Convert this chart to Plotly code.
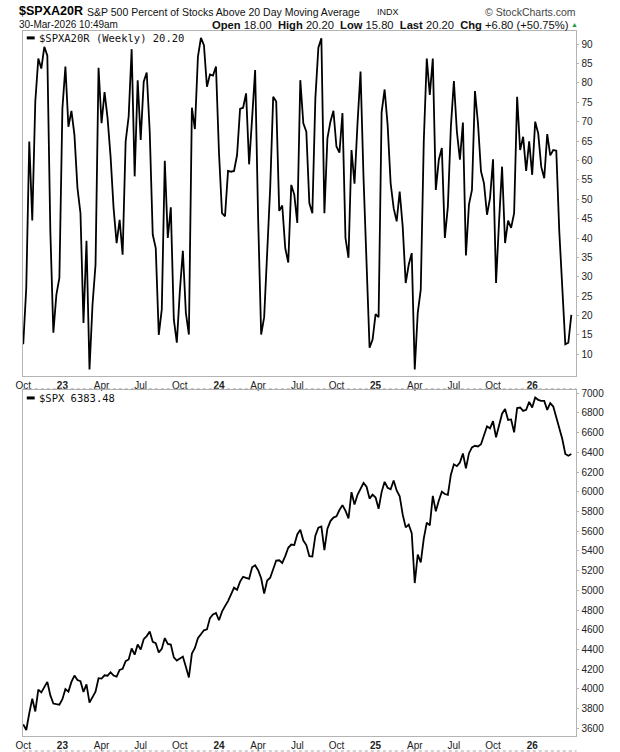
import pandas as pd
import plotly.graph_objects as go

# --- DATA (weekly closes) ---
START_DATE = "2022-10-07"

spxa20r = [12.6, 27.1, 64.9, 44.5, 75.2, 86.3, 83.7, 89.3, 87, 41.7,
           15.6, 25.4, 29.7, 73.4, 84.2, 68.7, 72.8, 66.6, 52.9, 46.4,
           18.1, 39.3, 6.1, 22.8, 33.1, 83.9, 69.6, 77.6, 70.9, 61,
           47.7, 38.7, 44.7, 35.7, 64.9, 71.3, 88.7, 55.9, 80.7, 65.3,
           80.3, 82.7, 67.4, 40.9, 37.4, 15, 21.6, 59.9, 40, 47.9,
           19, 13, 26.3, 36.7, 20.7, 15.1, 73.6, 68.1, 86.7, 91.6,
           89.7, 79, 82.2, 81.9, 84.2, 62, 46.4, 45.6, 57.3, 57.1,
           57.3, 61.4, 73.3, 73.6, 77.3, 59, 70.9, 83.3, 45, 15.1,
           19.6, 38.3, 52.9, 76.4, 75.2, 47, 48.4, 37.4, 33.7, 53.7,
           51.2, 43.9, 80.7, 69.6, 67.4, 49, 46.4, 76, 89.1, 91.5,
           46.4, 65.7, 70, 72.8, 63.6, 62, 72.2, 40, 34.9, 62.7,
           54, 69.6, 82.9, 55.4, 33.1, 11.7, 13.8, 20.4, 19.6, 72.4,
           78.3, 69.1, 54.1, 47.7, 44.3, 52, 43, 28.4, 33.1, 36.1,
           6.1, 20.7, 26.7, 64.9, 86.3, 76.9, 86.3, 52.4, 60.2, 63.2,
           40, 48.1, 68.7, 80.5, 67.4, 60.2, 69.8, 35.5, 48.6, 52.4,
           77.9, 69.6, 57.2, 54.1, 46, 50.3, 60.3, 28.4, 44.3, 58.4,
           38.7, 44.5, 42.6, 46.4, 76.4, 62.7, 66.1, 57.3, 64.9, 56.3,
           70, 67, 58.4, 55.4, 66.8, 61.3, 62.7, 62.5, 41.7, 28,
           12.6, 13, 20.2]

spx = [3640, 3583, 3753, 3901, 3771, 3993, 3965, 4026, 4072, 3934,
       3852, 3845, 3840, 3895, 3999, 3973, 4071, 4136, 4090, 4079,
       3970, 4046, 3862, 3917, 3971, 4109, 4105, 4138, 4134, 4169,
       4136, 4124, 4192, 4205, 4282, 4299, 4410, 4348, 4450, 4399,
       4505, 4536, 4582, 4478, 4464, 4370, 4406, 4516, 4457, 4450,
       4320, 4288, 4309, 4328, 4224, 4117, 4358, 4415, 4514, 4559,
       4595, 4604, 4719, 4755, 4770, 4697, 4784, 4840, 4891, 4959,
       5027, 5006, 5089, 5137, 5124, 5117, 5234, 5254, 5204, 5123,
       4967, 5100, 5128, 5223, 5303, 5305, 5278, 5347, 5432, 5465,
       5460, 5567, 5615, 5505, 5459, 5347, 5344, 5554, 5635, 5648,
       5408, 5626, 5703, 5738, 5751, 5815, 5865, 5808, 5729, 5996,
       5871, 5969, 6032, 6090, 6051, 5931, 5971, 5942, 5827, 5997,
       6101, 6041, 6026, 6115, 6013, 5955, 5770, 5639, 5668, 5581,
       5074, 5363, 5283, 5525, 5687, 5660, 5958, 5803, 5912, 6000,
       5977, 5968, 6173, 6279, 6260, 6297, 6389, 6238, 6389, 6450,
       6467, 6460, 6482, 6584, 6664, 6644, 6716, 6553, 6664, 6792,
       6840, 6729, 6734, 6603, 6849, 6855, 6821, 6831, 6912, 6855,
       6956, 6933, 6922, 6922, 6831, 6899, 6865, 6754, 6653, 6535,
       6383, 6366, 6383]

tick_months = ["2022-10", "2023-01", "2023-04", "2023-07", "2023-10",
               "2024-01", "2024-04", "2024-07", "2024-10",
               "2025-01", "2025-04", "2025-07", "2025-10", "2026-01"]
tick_text = ["Oct", "<b>23</b>", "Apr", "Jul", "Oct",
             "<b>24</b>", "Apr", "Jul", "Oct",
             "<b>25</b>", "Apr", "Jul", "Oct", "<b>26</b>"]

top_ticks = list(range(10, 95, 5))
bot_ticks = list(range(3600, 7200, 200))

# --- GEOMETRY (pixels -> paper) ---
W, H = 620, 752
def px(x):
    return x / W
def py(y):
    return 1 - y / H

dates = pd.date_range(START_DATE, periods=len(spx), freq="7D")
# label sits on the first weekly bar of each month
tick_vals = [dates[dates.strftime("%Y-%m") == m][0] for m in tick_months]

FONT = "Arial, Liberation Sans, sans-serif"
MONO = "DejaVu Sans Mono, Liberation Mono, monospace"
GREY = "#b4b4b4"

fig = go.Figure()
fig.add_trace(go.Scatter(x=dates, y=spxa20r, mode="lines",
                         line=dict(color="black", width=1.8),
                         xaxis="x", yaxis="y", hoverinfo="skip"))
fig.add_trace(go.Scatter(x=dates, y=spx, mode="lines",
                         line=dict(color="black", width=1.8),
                         xaxis="x2", yaxis="y2", hoverinfo="skip"))

x_range = [pd.Timestamp(START_DATE) - pd.Timedelta(days=1), pd.Timestamp("2026-04-15")]
xcommon = dict(range=x_range, tickvals=tick_vals, ticktext=tick_text,
               tickfont=dict(family=FONT, size=10, color="#222"),
               showline=True, mirror=True, linecolor=GREY, linewidth=1,
               showgrid=False, zeroline=False, ticks="", tickangle=0)
ycommon = dict(side="right", showline=True, mirror=True, linecolor=GREY, linewidth=1,
               showgrid=False, zeroline=False, ticks="outside", ticklen=2,
               tickcolor=GREY, tickfont=dict(family=FONT, size=10, color="#222"))

fig.update_layout(
    width=W, height=H,
    margin=dict(l=0, r=0, t=0, b=0),
    paper_bgcolor="white", plot_bgcolor="white",
    showlegend=False,
    xaxis=dict(domain=[px(16), px(576)], anchor="y", **xcommon),
    yaxis=dict(domain=[py(374.5), py(29)], anchor="x", range=[4.55, 93.4],
               tickvals=top_ticks, **ycommon),
    xaxis2=dict(domain=[px(16), px(576)], anchor="y2", **xcommon),
    yaxis2=dict(domain=[py(736), py(389)], anchor="x2", range=[3522, 7033],
                tickvals=bot_ticks, **ycommon),
)

# dotted separators under the date labels
for yy in (388, 751):
    fig.add_shape(type="line", xref="paper", yref="paper",
                  x0=px(16), x1=px(576), y0=py(yy), y1=py(yy),
                  line=dict(color="#a0a0a0", width=1, dash="dot"))

# legend swatches inside the panels
for yy in (36, 397):
    fig.add_shape(type="line", xref="paper", yref="paper",
                  x0=px(20), x1=px(28), y0=py(yy), y1=py(yy),
                  line=dict(color="black", width=3))

def note(x, y, text, size=10, family=FONT, color="#111", anchor="left"):
    fig.add_annotation(x=px(x), y=py(y), xref="paper", yref="paper",
                       text=text, showarrow=False, xanchor=anchor, yanchor="middle",
                       font=dict(family=family, size=size, color=color))

note(30, 36, "$SPXA20R (Weekly) 20.20", size=10.5, family=MONO)
note(30, 397, "$SPX 6383.48", size=10.5, family=MONO)

# header
note(10, 9.5, "<b>$SPXA20R</b>", size=12.5, color="black")
note(79, 10, "S&P 500 Percent of Stocks Above 20 Day Moving Average", size=10.5)
note(372, 10, "INDX", size=9)
note(578, 10, "© StockCharts.com", size=10.5, color="#444", anchor="right")
note(10, 23, "30-Mar-2026 10:49am", size=10)
note(570, 23, "<b>Open</b> 18.00&nbsp; <b>High</b> 20.20&nbsp; <b>Low</b> 15.80&nbsp; "
              "<b>Last</b> 20.20&nbsp; <b>Chg</b> +6.80 (+50.75%)", size=11.2, anchor="right")
note(580, 23, "▲", size=7, color="#1a9a3a", anchor="right")

# page body has a default 8px margin; drop it so the figure sits at the window corner
fig.write_html("out.html", config={"displayModeBar": False},
               post_script="document.body.style.margin='0';")
